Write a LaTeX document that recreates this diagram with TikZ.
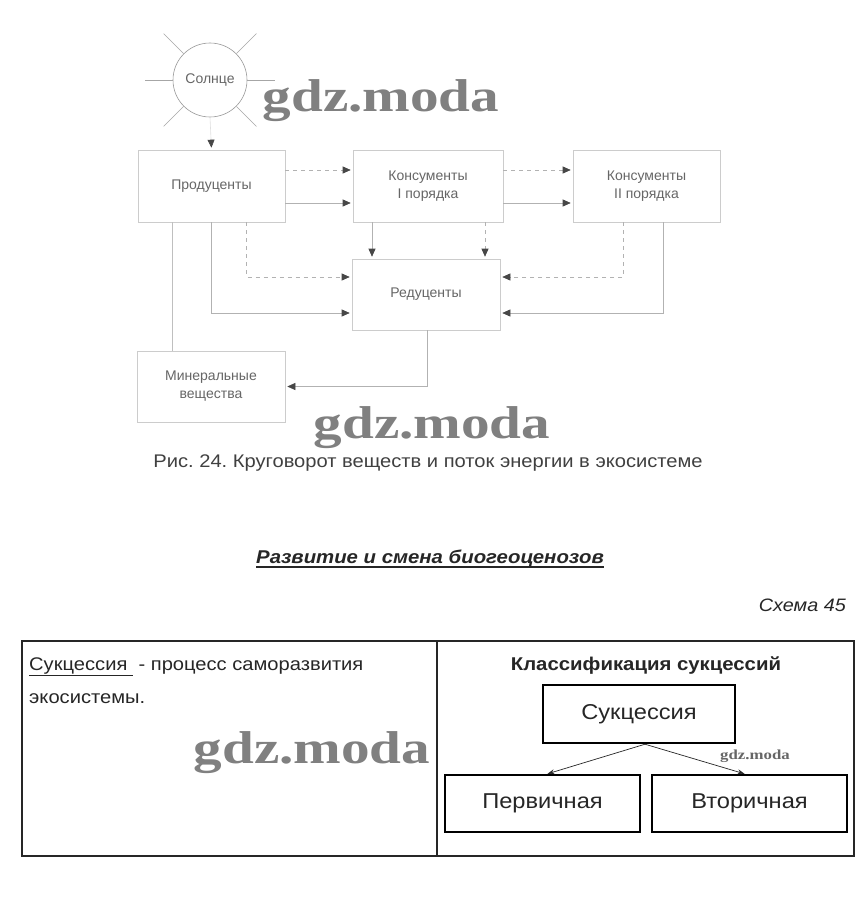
\documentclass[tikz,border=0pt]{standalone}
\usepackage{fontspec}
\setmainfont{Liberation Sans}
\newfontfamily\wide{Liberation Sans}[FakeStretch=1.1]
\newfontfamily\wmfont{Liberation Serif}
\usetikzlibrary{arrows.meta}
\frenchspacing
\begin{document}
\begin{tikzpicture}[x=1pt,y=-1pt,
  ebox/.style={draw=black!20, line width=0.6pt, inner sep=0pt, text=black!60,
    font=\fontsize{14}{18}\selectfont, align=center},
  flow/.style={draw=black!30, line width=0.6pt, -{Triangle[length=8pt,width=7pt,color=black!72]}, shorten >=2pt},
  dflow/.style={flow, dash pattern=on 4pt off 4pt},
  ray/.style={draw=black!35, line width=0.6pt},
  sbox/.style={draw=black, line width=2.4pt, inner sep=0pt, text=black!85,
    font=\wide\fontsize{21.5}{24}\selectfont},
  sarrow/.style={-{Stealth[length=7pt,width=5pt]}, line width=0.7pt, draw=black!85},
  wm/.style={text=black!50, inner sep=0pt},
  plain/.style={text=black!85, inner sep=0pt}
]
\useasboundingbox[fill=white] (0,0) rectangle (867,899);

% ---------- top diagram ----------
\node[ebox, circle, draw=black!40, minimum size=74pt] (sun) at (210,80) {Солнце};
\draw[ray] (sun.135) -- ++(-20,-20);
\draw[ray] (sun.45) -- ++(20,-20);
\draw[ray] (sun.225) -- ++(-20,20);
\draw[ray] (sun.315) -- ++(20,20);
\draw[ray] (sun.180) -- ++(-28,0);
\draw[ray] (sun.0) -- ++(28,0);

\node[ebox, minimum width=147pt, minimum height=72pt] (prod) at (211.5,186) {Продуценты};
\node[ebox, minimum width=150pt, minimum height=72pt] (c1) at (428,186) {Консументы\\I порядка};
\node[ebox, minimum width=147pt, minimum height=72pt] (c2) at (646.5,186) {Консументы\\II порядка};
\node[ebox, minimum width=148pt, minimum height=71pt] (red) at (426,294.5) {Редуценты};
\node[ebox, minimum width=148pt, minimum height=71pt] (min) at (211,386.5) {Минеральные\\вещества};

\draw[flow, draw=black!12] (sun.south) -- (prod.north);

\draw[dflow] ([yshift=16pt]prod.east) -- ([yshift=16pt]c1.west);
\draw[flow] ([yshift=-17pt]prod.east) -- ([yshift=-17pt]c1.west);
\draw[dflow] ([yshift=16pt]c1.east) -- ([yshift=16pt]c2.west);
\draw[flow] ([yshift=-17pt]c1.east) -- ([yshift=-17pt]c2.west);

\draw[flow] ([xshift=-56pt]c1.south) -- ([xshift=-56pt]c1.south |- red.north);
\draw[dflow] ([xshift=57pt]c1.south) -- ([xshift=57pt]c1.south |- red.north);

\draw[dflow] ([xshift=35pt]prod.south) |- ([yshift=17.5pt]red.west);
\draw[flow] (prod.south) |- ([yshift=-18.5pt]red.west);
\draw[dflow] ([xshift=-23pt]c2.south) |- ([yshift=17.5pt]red.east);
\draw[flow] ([xshift=16.5pt]c2.south) |- ([yshift=-18.5pt]red.east);

\draw[draw=black!25, line width=0.6pt] ([xshift=-39.5pt]prod.south) -- ([xshift=-39.5pt]prod.south |- min.north);
\draw[flow] ([xshift=1pt]red.south) |- (min.east);

\node[wm, font=\wmfont\bfseries\fontsize{40}{40}\selectfont] (wm1) at (381,101) {\scalebox{1.43}[1.15]{gdz.moda}};
\node[wm, font=\wmfont\bfseries\fontsize{40}{40}\selectfont] (wm2) at (432,428) {\scalebox{1.43}[1.15]{gdz.moda}};

\node[plain, text=black!75, anchor=base, font=\wide\fontsize{18.3}{20}\selectfont] (cap) at (428,467)
  {Рис. 24. Круговорот веществ и поток энергии в экосистеме};

% ---------- title ----------
\node[plain, anchor=base, font=\wide\bfseries\itshape\fontsize{18.5}{20}\selectfont] (title) at (430,563)
  {Развитие и смена биогеоценозов};
\draw[line width=1.5pt, black!85] ([yshift=-4pt]title.base west) -- ([yshift=-4pt]title.base east);
\node[plain, anchor=base east, font=\wide\itshape\fontsize{18}{20}\selectfont] (schema) at (846,611) {Схема 45};

% ---------- table ----------
\node[draw=black!85, line width=1.6pt, minimum width=832pt, minimum height=215pt, inner sep=0pt] (tbl) at (438,748.5) {};
\draw[black!85, line width=1.6pt] ([xshift=-1pt]tbl.north) -- ([xshift=-1pt]tbl.south);

\node[plain, anchor=base west, font=\wide\fontsize{18.3}{20}\selectfont] (def1) at (29,670)
  {\underline{Сукцессия\ }\ - процесс саморазвития};
\node[plain, anchor=base west, font=\wide\fontsize{18.3}{20}\selectfont] (def2) at (29,703) {экосистемы.};

\node[wm, font=\wmfont\bfseries\fontsize{40}{40}\selectfont] (wm3) at (312,753) {\scalebox{1.43}[1.15]{gdz.moda}};

\node[plain, anchor=base, font=\wide\bfseries\fontsize{18.5}{20}\selectfont] (cls) at (646,670) {Классификация сукцессий};
\node[sbox, minimum width=192pt, minimum height=58pt] (suk) at (639,714) {Сукцессия};
\node[sbox, minimum width=195pt, minimum height=57pt] (perv) at (542.5,803.5) {Первичная};
\node[sbox, minimum width=195pt, minimum height=57pt] (vtor) at (749.5,803.5) {Вторичная};
\draw[sarrow] ([xshift=6pt]suk.south) -- ([xshift=5pt]perv.north);
\draw[sarrow] ([xshift=6pt]suk.south) -- ([xshift=-5pt]vtor.north);
\node[wm, text=black!60, font=\wmfont\bfseries\fontsize{12}{12}\selectfont] (wm4) at (755,756) {\scalebox{1.4}[1.15]{gdz.moda}};
\end{tikzpicture}
\end{document}
